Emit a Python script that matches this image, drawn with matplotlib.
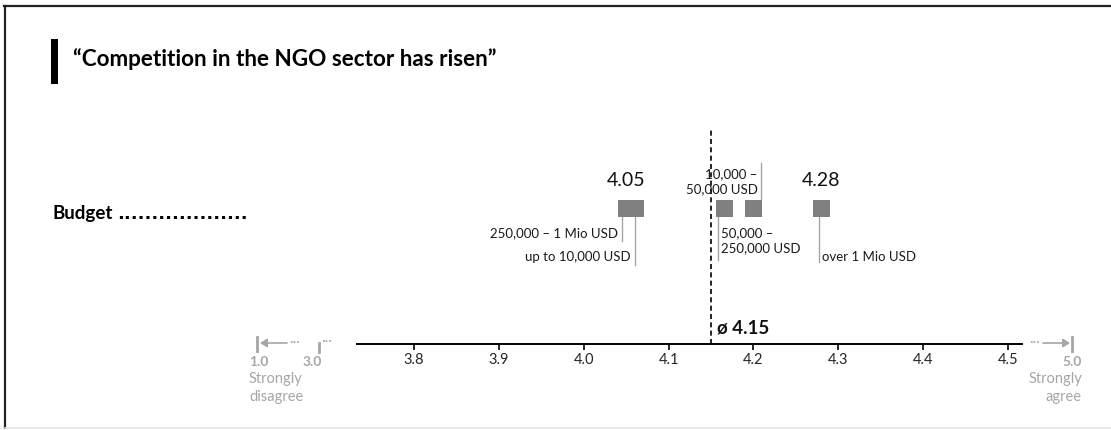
import matplotlib
matplotlib.use("Agg")
import matplotlib.pyplot as plt
from matplotlib.lines import Line2D
from matplotlib.patches import Rectangle, FancyArrowPatch

plt.rcParams['font.family'] = ['Lato', 'DejaVu Sans']

# ---- data -------------------------------------------------------------
title = "\u201cCompetition in the NGO sector has risen\u201d"
row_label = "Budget"
groups = ["up to 10,000 USD", "10,000 \u2013\n50,000 USD", "50,000 \u2013\n250,000 USD",
          "250,000 \u2013 1 Mio USD", "over 1 Mio USD"]
means = [4.06, 4.20, 4.165, 4.05, 4.28]
overall_mean = 4.15
ticks = [3.8, 3.9, 4.0, 4.1, 4.2, 4.3, 4.4, 4.5]
tick_labels = ["3.8", "3.9", "4.0", "4.1", "4.2", "4.3", "4.4", "4.5"]
x_limits = (3.7328, 4.5165)

# ---- layout helpers (pixel frame of a 1111 x 430 canvas) ---------------
W, H = 1111, 430
AX_LEFT, AX_RIGHT, AX_BASE, AX_TOP = 357, 1022, 343.5, 110
fig = plt.figure(figsize=(W / 100, H / 100), dpi=100)
fig.patch.set_facecolor("white")


def fx(px):
    return px / W


def fy(py_):
    return 1 - py_ / H


ax = fig.add_axes([fx(AX_LEFT), fy(AX_BASE), (AX_RIGHT - AX_LEFT) / W, (AX_BASE - AX_TOP) / H])
ax.set_xlim(*x_limits)
ax.set_ylim(0, AX_BASE - AX_TOP)
PX = (x_limits[1] - x_limits[0]) / (AX_RIGHT - AX_LEFT)   # data units per pixel


def yy(py_):
    """screen row -> height above the scale line"""
    return AX_BASE - py_


for side in ("left", "right", "top"):
    ax.spines[side].set_visible(False)
ax.spines["bottom"].set_linewidth(1.4)
ax.spines["bottom"].set_color("black")
ax.set_yticks([])
ax.set_xticks(ticks)
ax.set_xticklabels(tick_labels)
ax.tick_params(axis="x", direction="out", length=4.5, width=1.2, color="black",
               labelsize=10.5, labelcolor="#262626", pad=2)
ax.patch.set_alpha(0)

GRAY = "#808080"
LEAD = "#a6a6a6"
LIGHT = "#a6a6a6"

# squares
SQ_ROW = 207.5
ax.scatter(means, [yy(SQ_ROW)] * len(means), marker="s", s=(17 * 0.72) ** 2,
           color=GRAY, linewidths=0, zorder=3, clip_on=False)

# leader lines and category names
# (x offset of the leader in px, leader start row, leader end row, text side, text row)
leader_layout = {
    0: (0, 216, 265, "left_of", 257),
    1: (8, 199, 163, "left_of", 181.5),
    2: (-6, 216, 260, "right_of", 240.5),
    3: (-4, 216, 241, "left_of", 233),
    4: (-2, 216, 262, "right_of", 257),
}
for i, (name, v) in enumerate(zip(groups, means)):
    dx, y0, y1, side, ty = leader_layout[i]
    lx = v + dx * PX
    ax.plot([lx, lx], [yy(y0), yy(y1)], color=LEAD, lw=1.0, zorder=2, clip_on=False)
    if side == "left_of":
        ax.text(lx - 4 * PX, yy(ty), name, ha="right", va="center", fontsize=9.5,
                color="#1a1a1a", linespacing=1.25, clip_on=False)
    else:
        ax.text(lx + 3 * PX, yy(ty), name, ha="left", va="center", fontsize=9.5,
                color="#1a1a1a", linespacing=1.25, clip_on=False)

# value labels on the lowest and highest group
for v in (min(means), max(means)):
    ax.text(v, yy(180), f"{v:.2f}", ha="center", va="center", fontsize=14, color="#111111")

# overall mean
ax.plot([overall_mean, overall_mean], [0, yy(128)], color="black", lw=1.2,
        ls=(0, (3, 2)), zorder=1, clip_on=False)
ax.text(overall_mean + 6 * PX, yy(328), f"\u00f8 {overall_mean:.2f}", ha="left",
        va="center", fontsize=13.5, fontweight="bold", color="#111111")

# ---- title and row label --------------------------------------------
fig.add_artist(Rectangle((fx(51), fy(84)), 7 / W, 45 / H, transform=fig.transFigure,
                         facecolor="black", edgecolor="none"))
fig.text(fx(73), fy(59), title, ha="left", va="center", fontsize=16.2,
         fontweight="bold", color="black")
row_txt = fig.text(fx(52), fy(219), row_label, ha="left", va="baseline", fontsize=13.5,
                   fontweight="bold", color="black")
fig.canvas.draw()
row_end = row_txt.get_window_extent().x1          # pixels from the left edge
fig.text(fx(row_end + 5), fy(219), "." * 19, ha="left", va="baseline", fontsize=13,
         family="DejaVu Sans", fontweight="bold", color="black")

# ---- scale end markers ------------------------------------------------
def vbar(x, ya, yb, lw=2.0):
    fig.add_artist(Line2D([fx(x), fx(x)], [fy(ya), fy(yb)], transform=fig.transFigure,
                          color=LIGHT, lw=lw))


def arrow(x_from, x_to, y):
    fig.add_artist(FancyArrowPatch(
        (fx(x_from), fy(y)), (fx(x_to), fy(y)), transform=fig.transFigure,
        arrowstyle="-|>,head_length=4,head_width=2.5", color=LIGHT, lw=1.2,
        shrinkA=0, shrinkB=0))


DOTS = "\u00b7\u00b7\u00b7"
# left end
vbar(257, 337, 351)
arrow(287, 260, 343)
fig.text(fx(289), fy(342), DOTS, ha="left", va="center", fontsize=10, color=LIGHT)
vbar(319, 343, 352)
fig.text(fx(321), fy(341), DOTS, ha="left", va="center", fontsize=10, color=LIGHT)
fig.text(fx(249), fy(362), "1.0", ha="left", va="center", fontsize=10, fontweight="bold", color=LIGHT)
fig.text(fx(303), fy(362), "3.0", ha="left", va="center", fontsize=10, fontweight="bold", color=LIGHT)
fig.text(fx(249), fy(388), "Strongly\ndisagree", ha="left", va="center", fontsize=10.5,
         color=LIGHT, linespacing=1.3)

# right end
fig.text(fx(1029), fy(342), DOTS, ha="left", va="center", fontsize=10, color=LIGHT)
arrow(1043, 1070, 343)
vbar(1072, 337, 351)
fig.text(fx(1082), fy(362), "5.0", ha="right", va="center", fontsize=10, fontweight="bold", color=LIGHT)
fig.text(fx(1082), fy(388), "Strongly\nagree", ha="right", va="center", fontsize=10.5,
         color=LIGHT, linespacing=1.3, multialignment="right")

# ---- frame ------------------------------------------------------------
fig.add_artist(Line2D([fx(4), 1], [fy(6), fy(6)], transform=fig.transFigure, color="#222222", lw=1.6))
fig.add_artist(Line2D([fx(5), fx(5)], [fy(6), fy(428)], transform=fig.transFigure, color="#222222", lw=1.6))
fig.add_artist(Line2D([fx(5), 1], [fy(427.5), fy(427.5)], transform=fig.transFigure, color="#e6e6e6", lw=1.2))

fig.savefig("out.png", dpi=100, facecolor="white")
